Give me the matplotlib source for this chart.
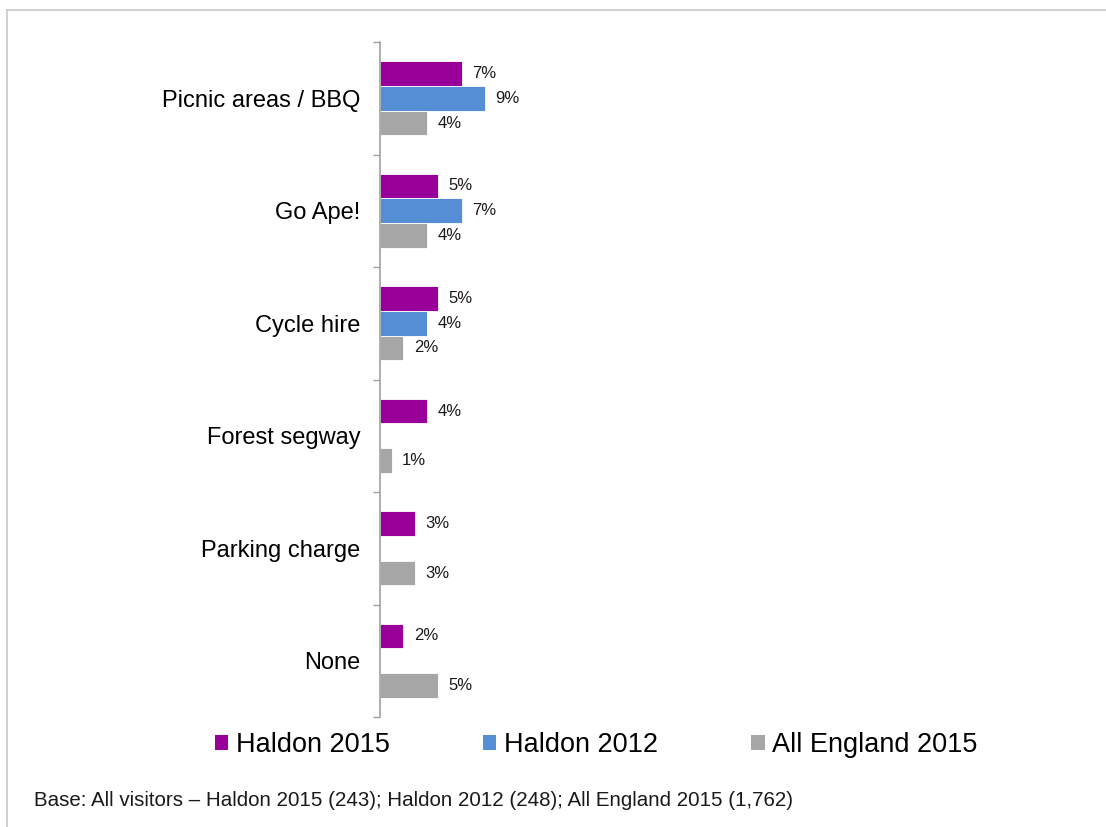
import matplotlib.pyplot as plt
import numpy as np
from matplotlib.lines import Line2D
from matplotlib.patches import Patch

plt.rcParams['font.family'] = ['Liberation Sans', 'DejaVu Sans']

categories = ["Picnic areas / BBQ", "Go Ape!", "Cycle hire", "Forest segway",
              "Parking charge", "None"]
series_names = ["Haldon 2015", "Haldon 2012", "All England 2015"]
haldon_2015 = [7, 5, 5, 4, 3, 2]
haldon_2012 = [9, 7, 4, None, None, None]
england_2015 = [4, 4, 2, 1, 3, 5]
colors = ["#990099", "#558ED5", "#A6A6A6"]
footnote = "Base: All visitors \u2013 Haldon 2015 (243); Haldon 2012 (248); All England 2015 (1,762)"

W, H = 1106, 827
fig = plt.figure(figsize=(W / 100, H / 100), dpi=100)
ax = fig.add_axes([380 / W, 1 - 717 / H, (1080 - 380) / W, (717 - 42) / H])

bar_h = 0.22
n = len(categories)
y_base = np.arange(n)
offsets = [-bar_h, 0, bar_h]
for vals, off, col in zip([haldon_2015, haldon_2012, england_2015], offsets, colors):
    for i, v in enumerate(vals):
        if v is None:
            continue
        ax.barh(y_base[i] + off, v, height=bar_h, color=col, edgecolor='white', linewidth=0.6)
        ax.text(v + 0.9, y_base[i] + off, f"{v}%", va='center', ha='left', fontsize=12,
                color='#1a1a1a')

ax.set_xlim(0, 60)
ax.set_ylim(n - 0.5, -0.5)
ax.set_yticks(y_base)
ax.set_yticklabels(categories, fontsize=17)
ax.tick_params(axis='y', length=0, pad=14)
ax.set_yticks(np.arange(-0.5, n, 1.0), minor=True)
ax.tick_params(axis='y', which='minor', length=5, color='#A0A0A0', width=1)
ax.set_xticks([])
for s in ['top', 'right', 'bottom']:
    ax.spines[s].set_visible(False)
ax.spines['left'].set_color('#A0A0A0')
ax.spines['left'].set_linewidth(1.2)

handles = [Patch(facecolor=c, edgecolor='none') for c in colors]
fig.legend(handles, series_names, loc='center', bbox_to_anchor=(596 / W, 1 - 745 / H),
           ncol=3, frameon=False, fontsize=19.5, handlelength=0.5, handleheight=0.5,
           handletextpad=0.27, columnspacing=3.45, borderpad=0, borderaxespad=0)

fig.text(34 / W, 1 - 801 / H, footnote, fontsize=14.8, va='center', ha='left', color='#1a1a1a')

# Outer frame lines (top and left)
fig.add_artist(Line2D([7 / W, 1], [1 - 10 / H, 1 - 10 / H], color='#C8C8C8', lw=1.2))
fig.add_artist(Line2D([7 / W, 7 / W], [0, 1 - 10 / H], color='#C8C8C8', lw=1.2))

fig.savefig("out.png", dpi=100)
